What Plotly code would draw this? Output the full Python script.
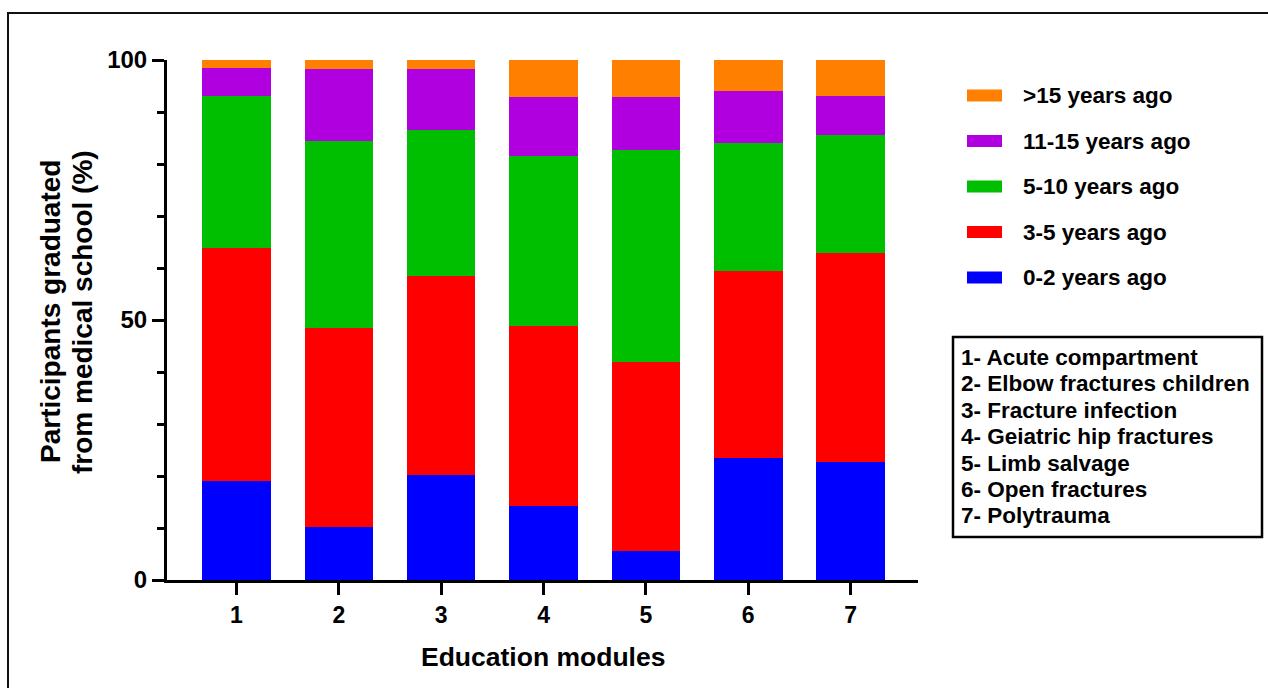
import plotly.graph_objects as go

# ---------------- data ----------------
modules = [1, 2, 3, 4, 5, 6, 7]
module_names = [
    "1- Acute compartment",
    "2- Elbow fractures children",
    "3- Fracture infection",
    "4- Geiatric hip fractures",
    "5- Limb salvage",
    "6- Open fractures",
    "7- Polytrauma",
]
series_names = ["0-2 years ago", "3-5 years ago", "5-10 years ago", "11-15 years ago", ">15 years ago"]
yrs_0_2 = [19.0, 10.1, 20.1, 14.3, 5.6, 23.5, 22.6]
yrs_3_5 = [44.8, 38.4, 38.4, 34.6, 36.4, 35.9, 40.2]
yrs_5_10 = [29.3, 35.9, 28.0, 32.7, 40.6, 24.7, 22.8]
yrs_11_15 = [5.3, 13.8, 11.7, 11.3, 10.3, 9.9, 7.5]
yrs_15_plus = [1.6, 1.8, 1.8, 7.1, 7.1, 6.0, 6.9]
series_values = [yrs_0_2, yrs_3_5, yrs_5_10, yrs_11_15, yrs_15_plus]
colors = ["#0000FF", "#FF0000", "#00BF00", "#B000E0", "#FF8000"]
y_ticks = [0, 50, 100]

# ---------------- layout geometry (pixels) ----------------
W, H = 1268, 688
L, R, T, B = 167, 918, 60, 580
FONT = "Arial, Liberation Sans, sans-serif"


def px(x):
    return (x - L) / (R - L)


def py(y):
    return (B - y) / (B - T)


fig = go.Figure()
for name, vals, col in zip(series_names, series_values, colors):
    fig.add_trace(go.Bar(
        x=modules, y=vals, name=name, width=0.67,
        marker=dict(color=col, line=dict(width=0)),
        showlegend=False,
    ))

shapes = []
annotations = []

# outer frame
shapes.append(dict(type="rect", xref="paper", yref="paper",
                   x0=px(8), x1=px(1300), y0=py(720), y1=py(13),
                   line=dict(color="#111111", width=2)))

# custom legend (top entry = last series)
leg_y0 = 95.5
leg_dy = 45.5
for i, (name, col) in enumerate(zip(series_names[::-1], colors[::-1])):
    yc = leg_y0 + i * leg_dy
    shapes.append(dict(type="rect", xref="paper", yref="paper",
                       x0=px(967), x1=px(1002), y0=py(yc + 6), y1=py(yc - 6),
                       fillcolor=col, line=dict(width=0)))
    annotations.append(dict(xref="paper", yref="paper", x=px(1021), y=py(yc),
                            xanchor="left", yanchor="middle", showarrow=False,
                            text="<b>%s</b>" % name,
                            font=dict(family=FONT, size=22.5, color="black")))

# module key box
shapes.append(dict(type="rect", xref="paper", yref="paper",
                   x0=px(953), x1=px(1262), y0=py(537), y1=py(337),
                   line=dict(color="black", width=2.5)))
for i, t in enumerate(module_names):
    yc = 357.5 + i * 26.4
    annotations.append(dict(xref="paper", yref="paper", x=px(959), y=py(yc),
                            xanchor="left", yanchor="middle", showarrow=False,
                            text="<b>%s</b>" % t,
                            font=dict(family=FONT, size=22.5, color="black")))

# y axis title (two lines)
for xc, t in [(50, "Participants graduated"), (82, "from medical school (%)")]:
    annotations.append(dict(xref="paper", yref="paper", x=px(xc), y=py(312),
                            xanchor="center", yanchor="middle", showarrow=False,
                            textangle=-90, text="<b>%s</b>" % t,
                            font=dict(family=FONT, size=28, color="black")))

# x axis title
annotations.append(dict(xref="paper", yref="paper", x=px(543), y=py(657),
                        xanchor="center", yanchor="middle", showarrow=False,
                        text="<b>Education modules</b>",
                        font=dict(family=FONT, size=26.5, color="black")))

fig.update_layout(
    width=W, height=H,
    margin=dict(l=L, r=W - R, t=T, b=H - B, pad=0),
    barmode="stack",
    plot_bgcolor="white", paper_bgcolor="white",
    font=dict(family=FONT, color="black"),
    shapes=shapes, annotations=annotations,
    showlegend=False,
)
fig.update_xaxes(
    range=[0.321, 7.659], tickmode="array", tickvals=modules,
    ticktext=["<b>%d</b>" % m for m in modules],
    ticks="outside", ticklen=12, tickwidth=3, tickcolor="black",
    showline=True, linewidth=3, linecolor="black",
    showgrid=False, zeroline=False,
    tickfont=dict(family=FONT, size=23, color="black"),
)
fig.update_yaxes(
    range=[0, 100], tickmode="array", tickvals=y_ticks,
    ticktext=["<b>%d</b>" % v for v in y_ticks],
    ticks="outside", ticklen=12, tickwidth=3, tickcolor="black",
    minor=dict(tickmode="linear", tick0=0, dtick=10, ticks="outside",
               ticklen=7, tickwidth=3, tickcolor="black", showgrid=False),
    showline=True, linewidth=3, linecolor="black",
    showgrid=False, zeroline=False,
    tickfont=dict(family=FONT, size=24, color="black"),
)

fig.write_html("out.html", config={"displayModeBar": False},
               post_script="document.body.style.margin='0';document.body.style.padding='0';")
